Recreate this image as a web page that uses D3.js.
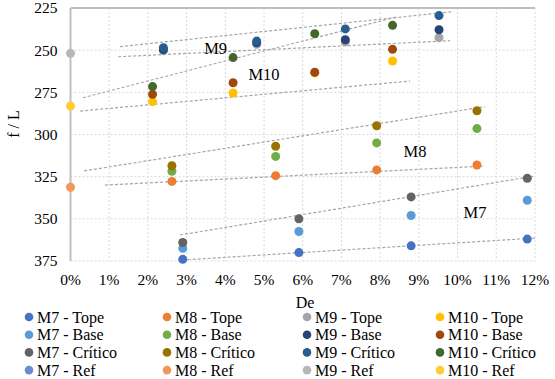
<!DOCTYPE html>
<html lang="es">
<head>
    <meta charset="UTF-8">
    <script src="https://cdn.jsdelivr.net/npm/d3@7"></script>
    <title>f / L vs De</title>
    <style>
        body { margin: 0; background: #fff; }
        svg text { font-family: "Liberation Serif", "Times New Roman", serif; fill: #000; }
        .grid line { stroke: #d9d9d9; stroke-width: 1; stroke-dasharray: 2,2; }
        .trend { fill: none; stroke: #a6a6a6; stroke-width: 1.2; stroke-dasharray: 3,2; }
    </style>
</head>
<body>
<svg id="chart" width="555" height="379"></svg>
<script>
    // x positions (De, %) per group
    const m7X = [2.9, 5.9, 8.8, 11.8];
    const m8X = [2.62, 5.3, 7.91, 10.5];
    const m9X = [2.4, 4.81, 7.1, 9.52];
    const m10X = [2.12, 4.2, 6.31, 8.32];
    const refX = [0];

    // f / L values
    const m7Tope = [374, 370, 366, 362];
    const m7Base = [367.5, 357.5, 348, 339];
    const m7Critico = [364, 350, 337, 326];
    const m7Ref = [];
    const m8Tope = [327.8, 324.4, 321, 318.1];
    const m8Base = [321.8, 313, 305, 296.5];
    const m8Critico = [318.5, 307, 294.8, 285.9];
    const m8Ref = [331.3];
    const m9Tope = [250.3, 246.5, 245, 242.6];
    const m9Base = [249.7, 245.6, 243.8, 237.9];
    const m9Critico = [248.5, 244.6, 237.4, 229.5];
    const m9Ref = [251.9];
    const m10Tope = [280.5, 275.4, 263.5, 256.4];
    const m10Base = [276.2, 269.3, 263.1, 249.5];
    const m10Critico = [271.6, 254.4, 240.2, 235.3];
    const m10Ref = [283.1];

    // trendlines: [[x0, y0], [x1, y1]]
    const trendM7Tope = [[2.9, 374.4], [12.0, 361.4]];
    const trendM7Critico = [[2.83, 359.6], [12.0, 324.6]];
    const trendM8Tope = [[0.89, 330.0], [10.7, 318.7]];
    const trendM8Critico = [[0.35, 321.6], [10.7, 283.5]];
    const trendM9Tope = [[1.23, 253.9], [9.8, 244.4]];
    const trendM9Critico = [[1.28, 247.9], [9.85, 227.2]];
    const trendM10Tope = [[0.25, 286.1], [8.77, 268.3]];
    const trendM10Critico = [[0.32, 278.2], [8.43, 230.2]];

    const xTicks = d3.range(0, 13, 1);
    const yTicks = [225, 250, 275, 300, 325, 350, 375];

    const groupLabels = [
        { text: "M9", x: 3.75, y: 249 },
        { text: "M10", x: 5.0, y: 264 },
        { text: "M8", x: 8.9, y: 310 },
        { text: "M7", x: 10.45, y: 346 }
    ];

    // series in legend order (rows of four)
    const series = [
        { name: "M7 - Tope", color: "#4472c4", x: m7X, y: m7Tope },
        { name: "M8 - Tope", color: "#ed7d31", x: m8X, y: m8Tope },
        { name: "M9 - Tope", color: "#a5a5a5", x: m9X, y: m9Tope },
        { name: "M10 - Tope", color: "#ffc000", x: m10X, y: m10Tope },
        { name: "M7 - Base", color: "#5b9bd5", x: m7X, y: m7Base },
        { name: "M8 - Base", color: "#70ad47", x: m8X, y: m8Base },
        { name: "M9 - Base", color: "#264478", x: m9X, y: m9Base },
        { name: "M10 - Base", color: "#9e480e", x: m10X, y: m10Base },
        { name: "M7 - Crítico", color: "#636363", x: m7X, y: m7Critico },
        { name: "M8 - Crítico", color: "#997300", x: m8X, y: m8Critico },
        { name: "M9 - Crítico", color: "#255e91", x: m9X, y: m9Critico },
        { name: "M10 - Crítico", color: "#43682b", x: m10X, y: m10Critico },
        { name: "M7 - Ref", color: "#698ed0", x: refX, y: m7Ref },
        { name: "M8 - Ref", color: "#f1975a", x: refX, y: m8Ref },
        { name: "M9 - Ref", color: "#b7b7b7", x: refX, y: m9Ref },
        { name: "M10 - Ref", color: "#ffcd33", x: refX, y: m10Ref }
    ];
    const trends = [trendM7Tope, trendM7Critico, trendM8Tope, trendM8Critico,
                    trendM9Tope, trendM9Critico, trendM10Tope, trendM10Critico];

    const margin = { left: 70.5, top: 8, right: 20, bottom: 118 };
    const width = 535 - margin.left;
    const height = 261 - margin.top;

    const svg = d3.select("#chart");
    const g = svg.append("g").attr("transform", `translate(${margin.left},${margin.top})`);

    const x = d3.scaleLinear().domain([0, 12]).range([0, width]);
    const y = d3.scaleLinear().domain([225, 375]).range([0, height]);

    // grid
    const grid = g.append("g").attr("class", "grid");
    grid.selectAll("line.v").data(xTicks.slice(1)).enter().append("line")
        .attr("x1", d => x(d)).attr("x2", d => x(d))
        .attr("y1", 0).attr("y2", height);
    grid.selectAll("line.h").data(yTicks.slice(1)).enter().append("line")
        .attr("x1", 0).attr("x2", width)
        .attr("y1", d => y(d)).attr("y2", d => y(d));

    // axis lines (value axis reversed, so category axis sits on top)
    g.append("line").attr("x1", 0).attr("x2", 0).attr("y1", 0).attr("y2", height)
        .attr("stroke", "#bfbfbf").attr("stroke-width", 2);
    g.append("line").attr("x1", 0).attr("x2", width).attr("y1", 0).attr("y2", 0)
        .attr("stroke", "#bfbfbf").attr("stroke-width", 2);

    // tick labels
    g.selectAll("text.yt").data(yTicks).enter().append("text")
        .attr("x", -13).attr("y", d => y(d)).attr("dy", "0.35em")
        .attr("text-anchor", "end").style("font-size", "15.5px")
        .text(d => d);
    g.selectAll("text.xt").data(xTicks).enter().append("text")
        .attr("x", d => x(d)).attr("y", height + 24)
        .attr("text-anchor", "middle").style("font-size", "15.5px")
        .text(d => d + "%");

    // axis titles
    svg.append("text").attr("x", 305).attr("y", 308)
        .attr("text-anchor", "middle").style("font-size", "16px").text("De");
    svg.append("text").attr("transform", "translate(19,124) rotate(-90)")
        .attr("text-anchor", "middle").style("font-size", "16px").text("f / L");

    // trendlines
    const line = d3.line().x(d => x(d[0])).y(d => y(d[1]));
    g.selectAll("path.trend").data(trends).enter().append("path")
        .attr("class", "trend").attr("d", line);

    // points
    series.forEach(s => {
        g.append("g").selectAll("circle")
            .data(s.y.map((v, i) => [s.x[i], v]))
            .enter().append("circle")
            .attr("cx", d => x(d[0])).attr("cy", d => y(d[1]))
            .attr("r", 4.5).attr("fill", s.color);
    });

    // group labels
    g.selectAll("text.lab").data(groupLabels).enter().append("text")
        .attr("x", d => x(d.x)).attr("y", d => y(d.y)).attr("dy", "0.35em")
        .attr("text-anchor", "middle").style("font-size", "16.5px")
        .text(d => d.text);

    // legend
    const legend = svg.append("g");
    const colX = [29, 167, 307, 440];
    const item = legend.selectAll("g").data(series).enter().append("g")
        .attr("transform", (d, i) => `translate(${colX[i % 4]},${317 + Math.floor(i / 4) * 17.7})`);
    item.append("circle").attr("r", 4.3).attr("fill", d => d.color);
    item.append("text").attr("x", 8).attr("dy", "0.35em")
        .style("font-size", "16px").text(d => d.name);
</script>
</body>
</html>
